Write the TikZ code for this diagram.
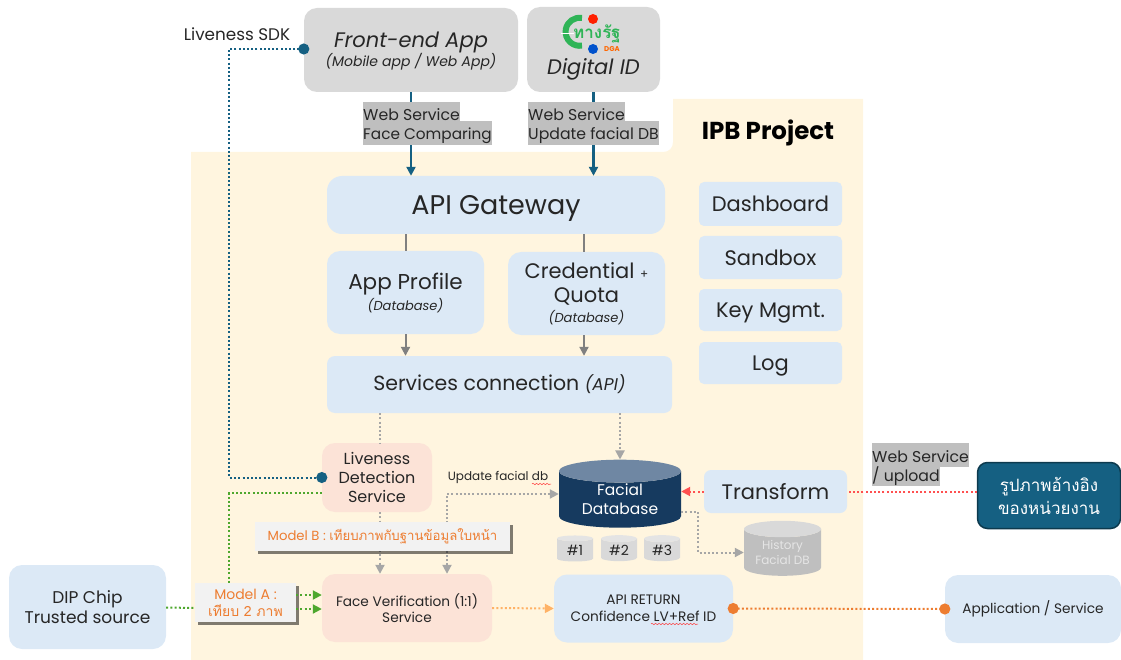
\documentclass[tikz,border=0pt]{standalone}
\usepackage{fontspec}
\setmainfont{Poppins}
\newfontfamily\thaifont[Script=Thai]{Loma}
\usetikzlibrary{arrows.meta,shapes.geometric,decorations.pathmorphing,shadows}
\definecolor{ipbyellow}{HTML}{FFF5DF}
\definecolor{boxblue}{HTML}{DCE9F6}
\definecolor{boxgray}{HTML}{D9D9D9}
\definecolor{boxpeach}{HTML}{FCE3D7}
\definecolor{labelgray}{HTML}{BFBFBF}
\definecolor{dbnavy}{HTML}{163A5F}
\definecolor{dbtop}{HTML}{6F87A3}
\definecolor{refteal}{HTML}{156082}
\definecolor{modelorange}{HTML}{ED7D31}
\definecolor{linegreen}{HTML}{4EA72E}
\definecolor{linered}{HTML}{FF5050}
\definecolor{logogreen}{HTML}{2FB457}
\tikzset{
    roundbox/.style={rounded corners=13pt,align=center,inner sep=0pt,text=black!85},
    bluebox/.style={roundbox,fill=boxblue},
    graybox/.style={roundbox,fill=boxgray},
    peachbox/.style={roundbox,fill=boxpeach},
    weblabel/.style={fill=labelgray,anchor=north west,inner sep=0pt,font=\fontsize{15.7}{18}\selectfont,text=black!85},
    modellabel/.style={fill=black!5,align=center,inner sep=0pt,text=modelorange,drop shadow={shadow xshift=3pt,shadow yshift=-3pt,fill=black,opacity=0.5}},
    dbcyl/.style={cylinder,shape border rotate=90,cylinder uses custom fill,draw=none,align=center,inner sep=0pt},
    smalldb/.style={dbcyl,aspect=0.35,cylinder body fill=boxgray,cylinder end fill=boxgray!70,minimum width=36pt,minimum height=26pt,font=\fontsize{14}{16}\selectfont,text=black!85},
    solidteal/.style={draw=refteal,line width=2.2pt},
    solidgray/.style={draw=black!50,line width=2pt},
    dotline/.style={line width=2pt,dash pattern=on 2pt off 2.2pt},
    graydot/.style={dotline,draw=black!35},
    tip/.style={-{Triangle[length=9pt,width=9pt]}},
    bothtips/.style={{Triangle[length=9pt,width=9pt]}-{Triangle[length=9pt,width=9pt]}},
    bothdots/.style={{Circle[length=11pt]}-{Circle[length=11pt]},shorten <=-5.5pt,shorten >=-5.5pt},
    squiggle/.style={draw=red!80,line width=0.5pt,decorate,decoration={snake,amplitude=0.7pt,segment length=3.5pt}}
}
\begin{document}
\begin{tikzpicture}[x=1pt,y=-1pt]
    \useasboundingbox (0,0) rectangle (1121,660);

    % yellow area
    \fill[ipbyellow] (191,152) -- (663,152) .. controls (669,152) and (673,148) .. (673,142) -- (673,99) -- (863,99) -- (863,660) -- (191,660) -- cycle;
    \node[font=\fontsize{24.5}{26}\selectfont\bfseries,text=black] (ipbtitle) at (768,133) {IPB Project};

    % top boxes
    \node[graybox,minimum width=214pt,minimum height=84pt] (frontend) at (411,50) {};
    \node[font=\fontsize{21}{24}\selectfont\itshape,text=black!85] (frontendtxt) at (411,42) {Front-end App};
    \node[font=\fontsize{14}{15}\selectfont\itshape,text=black!85] (frontendsub) at (411,62) {(Mobile app / Web App)};
    \node[graybox,minimum width=133pt,minimum height=85pt] (digitalid) at (593.5,49.5) {};
    \node[font=\fontsize{21}{24}\selectfont\itshape,text=black!85] (digitaltxt) at (593.5,69) {Digital ID};

    % logo
    \draw[logogreen,line width=6pt] (582,18) arc[start angle=80,end angle=280,radius=14pt];
    \draw[white,line width=1pt] (561,34) -- (574,34);
    \fill[red!75!orange] (593,19) circle (5);
    \fill[blue!60!cyan!80!black] (593,49) circle (5);
    \node[font=\fontsize{17}{18}\thaifont\bfseries,text=logogreen,inner sep=0pt] (logotxt) at (597,34) {ทางรัฐ};
    \node[font=\fontsize{7}{7}\selectfont\bfseries,text=orange!80!red,inner sep=0pt] (logodga) at (612,49) {DGA};

    % main boxes
    \node[bluebox,rounded corners=15pt,minimum width=338pt,minimum height=58pt,text depth=0pt,font=\fontsize{27}{30}\selectfont] (gateway) at (496,205) {API Gateway};
    \node[bluebox,minimum width=157pt,minimum height=83pt,font=\fontsize{21.5}{24}\selectfont] (appprofile) at (405.5,292.5) {App Profile\\[-3pt]\fontsize{13}{15}\selectfont\itshape (Database)};
    \node[bluebox,minimum width=157pt,minimum height=83pt,font=\fontsize{21}{24}\selectfont] (credential) at (586.5,293.5) {Credential {\fontsize{12}{14}\selectfont +}\\Quota\\[-4pt]\fontsize{13}{15}\selectfont\itshape (Database)};
    \node[bluebox,rounded corners=8pt,minimum width=345pt,minimum height=57pt,font=\fontsize{20.5}{24}\selectfont] (services) at (499.5,384.5) {Services connection {\fontsize{17}{20}\selectfont\itshape (API)}};

    % right column
    \node[bluebox,rounded corners=5pt,minimum width=143pt,minimum height=44pt,font=\fontsize{21}{24}\selectfont] (dashboard) at (770.5,204) {Dashboard};
    \node[bluebox,rounded corners=5pt,minimum width=143pt,minimum height=43pt,font=\fontsize{21}{24}\selectfont] (sandbox) at (770.5,257.5) {Sandbox};
    \node[bluebox,rounded corners=5pt,minimum width=143pt,minimum height=42pt,text depth=0pt,font=\fontsize{21}{24}\selectfont] (keymgmt) at (770.5,310) {Key Mgmt.};
    \node[bluebox,rounded corners=5pt,minimum width=143pt,minimum height=42pt,text depth=0pt,font=\fontsize{21}{24}\selectfont] (logbox) at (770.5,363) {Log};

    % lower boxes
    \node[peachbox,minimum width=110pt,minimum height=69pt,font=\fontsize{16}{19}\selectfont] (liveness) at (377,477.5) {Liveness\\Detection\\Service};
    \node[peachbox,minimum width=170pt,minimum height=68pt,font=\fontsize{13.7}{16.5}\selectfont] (faceverif) at (407,608) {Face Verification (1:1)\\Service};
    \node[bluebox,minimum width=157pt,minimum height=84pt,font=\fontsize{17}{20}\selectfont] (dipchip) at (87.5,607) {DIP Chip\\Trusted source};
    \node[bluebox,minimum width=179pt,minimum height=68pt,font=\fontsize{13.7}{16.5}\selectfont] (apireturn) at (643.5,608.5) {API RETURN\\Confidence LV+Ref ID};
    \node[bluebox,minimum width=176pt,minimum height=68pt,font=\fontsize{13.7}{17}\selectfont] (application) at (1033,609) {Application / Service};
    \node[bluebox,rounded corners=7pt,minimum width=143pt,minimum height=43pt,font=\fontsize{21}{24}\selectfont] (transform) at (775.5,491.5) {Transform};
    \node[roundbox,rounded corners=10pt,fill=refteal,draw=refteal!60!black,line width=1.5pt,minimum width=143pt,minimum height=66pt,text=white,font=\fontsize{17}{23}\thaifont] (refimage) at (1049,495.5) {รูปภาพอ้างอิง\\ของหน่วยงาน};
    \node[modellabel,minimum width=101pt,minimum height=39pt,font=\fontsize{14}{17}\selectfont] (modela) at (245.5,602.5) {Model A :\\{\thaifont เทียบ 2 ภาพ}};

    % databases
    \node[dbcyl,aspect=0.3,cylinder body fill=dbnavy,cylinder end fill=dbtop,minimum width=122pt,minimum height=68pt,text=white,font=\fontsize{15.5}{19}\selectfont] (facialdb) at (620,499.5) {Facial\\Database};
    \node[dbcyl,aspect=0.3,cylinder body fill=labelgray,cylinder end fill=boxgray,minimum width=77pt,minimum height=55pt,text=white!90!black,font=\fontsize{12}{15}\selectfont] (historydb) at (782.5,552.5) {History\\Facial DB};
    \node[smalldb] (dbone) at (575,550) {\#1};
    \node[smalldb] (dbtwo) at (619,550) {\#2};
    \node[smalldb] (dbthree) at (662,550) {\#3};

    % connectors
    \coordinate (sdkcorner) at (229,49);
    \coordinate (greencorner) at (229,493);
    \coordinate (updatecorner) at (447,494);
    \coordinate (historycorner) at (698,512);
    \coordinate (livecol) at (380,430);
    \coordinate (credcol) at (584,300);

    \draw[solidteal,tip] (frontend.south) -- (frontend.south |- gateway.north);
    \draw[solidteal,tip] (digitalid.south) -- (digitalid.south |- gateway.north);
    \draw[solidgray] (appprofile.north |- gateway.south) -- (appprofile.north);
    \draw[solidgray] (credcol |- gateway.south) -- (credcol |- credential.north);
    \draw[solidgray,tip] (appprofile.south) -- (appprofile.south |- services.north);
    \draw[solidgray,tip] (credcol |- credential.south) -- (credcol |- services.north);

    \draw[graydot] (livecol |- services.south) -- (livecol |- liveness.north);
    \draw[graydot,tip] (facialdb.north |- services.south) -- (facialdb.north);
    \draw[graydot,tip] (livecol |- liveness.south) -- (livecol |- faceverif.north);
    \draw[graydot,bothtips] (updatecorner |- faceverif.north) -- (updatecorner) -- (updatecorner -| facialdb.west);
    \draw[graydot,tip] (historycorner -| facialdb.east) -- (historycorner) |- (historydb.west);

    \draw[dotline,draw=refteal,bothdots] (sdkcorner -| frontend.west) -- (sdkcorner) |- (liveness.west);
    \draw[dotline,draw=linegreen] (greencorner -| liveness.west) -- (greencorner) -- (greencorner |- modela.north);
    \draw[dotline,draw=linegreen] (dipchip.east |- modela.west) ++(0,5) -- (modela.west |- 0,608);
    \draw[dotline,draw=linegreen,tip] (modela.east |- 0,595) -- (faceverif.west |- 0,595);
    \draw[dotline,draw=linegreen,tip] (modela.east |- 0,609) -- (faceverif.west |- 0,609);
    \draw[dotline,draw=orange!60,tip] (faceverif.east) -- (apireturn.west);
    \draw[dotline,draw=modelorange,bothdots] (apireturn.east) -- (application.west);
    \draw[dotline,draw=linered] (refimage.west |- transform) -- (transform.east);
    \draw[dotline,draw=linered,tip] (transform.west) -- (facialdb.east |- transform);

    % labels over the lines
    \node[weblabel,text height=18pt,text depth=1pt] (webone) at (363,102) {Web Service};
    \node[weblabel,text height=18pt,text depth=6pt,font=\fontsize{15.3}{18}\selectfont] (webonesub) at (363,121) {Face Comparing};
    \node[weblabel,text height=18pt,text depth=1pt] (webtwo) at (528,102) {Web Service};
    \node[weblabel,text height=18pt,text depth=6pt] (webtwosub) at (528,121) {Update facial DB};
    \node[weblabel,text height=19pt,text depth=5pt] (webthree) at (872,443) {Web Service};
    \node[weblabel,text height=14pt,text depth=5pt] (webthreesub) at (872,467) {/ upload};

    \node[modellabel,minimum width=255pt,minimum height=29pt,font=\fontsize{13.2}{16}\selectfont] (modelb) at (382.5,536.5) {Model B : {\thaifont เทียบภาพกับฐานข้อมูลใบหน้า}};

    \node[font=\fontsize{16.8}{18}\selectfont,text=black!85,inner sep=0pt] (sdklabel) at (237,34) {Liveness SDK};
    \node[font=\fontsize{12}{14}\selectfont,text=black!85,inner sep=0pt] (updatelabel) at (498,477) {Update facial db};
    \draw[squiggle] (532,484) -- (551,484);
    \draw[squiggle] (651,624) -- (698,624);
\end{tikzpicture}
\end{document}
